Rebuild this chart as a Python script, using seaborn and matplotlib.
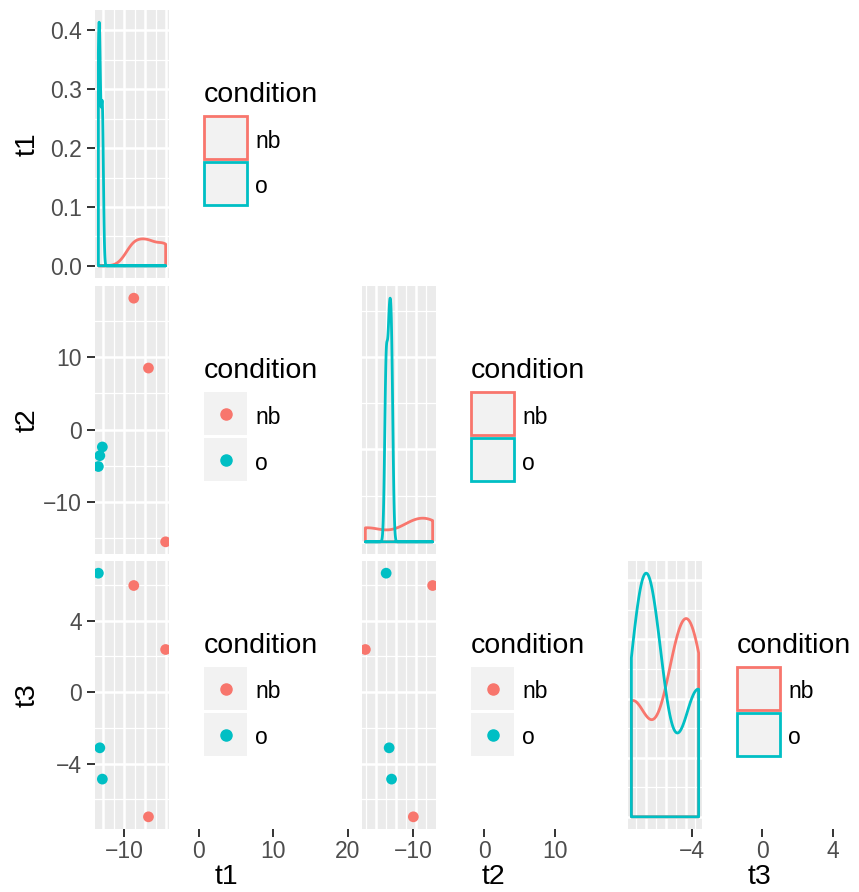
import numpy as np
import pandas as pd
import matplotlib
matplotlib.use("Agg")
import matplotlib.pyplot as plt
from matplotlib.patches import Rectangle
from matplotlib.lines import Line2D
from matplotlib.ticker import MultipleLocator
import seaborn as sns

# data (three samples per condition)
conditions = ["nb", "nb", "nb", "o", "o", "o"]
t1 = [4.6, 11.6, 19.8, -12.3, -11.6, -10.4]
t2 = [18.15, 8.5, -15.5, -5.1, -3.6, -2.4]
t3 = [5.96, -6.98, 2.38, 6.65, -3.12, -4.87]

variables = ["t1", "t2", "t3"]
levels = ["nb", "o"]
palette = {"nb": "#F8766D", "o": "#00BFC4"}

df = pd.DataFrame({"condition": conditions, "t1": t1, "t2": t2, "t3": t3})

plt.rcParams["font.family"] = ["Liberation Sans", "DejaVu Sans"]

# layout in pixels (figure is 859 x 892)
W, H = 859, 892
PANEL_LEFT = [95, 362, 628]
PANEL_TOP = [10, 286, 561]
PANEL_W, PANEL_H = 74, 268
STRIP_W = 263
x_step = {"t1": 10, "t2": 10, "t3": 4}
dens_step = {"t1": 0.1, "t2": 0.1, "t3": 0.02}

TICK_COL = "#333333"
LAB_COL = "#4D4D4D"


def px_rect(l, t, w, h):
    return [l / W, 1 - (t + h) / H, w / W, h / H]


def fy(y):
    return 1 - y / H


def nrd0(x):
    """R's default bandwidth (bw.nrd0)."""
    x = np.asarray(x, dtype=float)
    sd = x.std(ddof=1)
    q75, q25 = np.percentile(x, [75, 25])
    lo = min(sd, (q75 - q25) / 1.34)
    return 0.9 * lo * len(x) ** -0.2


def style_panel(ax, xs, ys):
    ax.set_facecolor("#EBEBEB")
    ax.xaxis.set_major_locator(MultipleLocator(xs))
    ax.xaxis.set_minor_locator(MultipleLocator(xs / 2))
    ax.yaxis.set_major_locator(MultipleLocator(ys))
    ax.yaxis.set_minor_locator(MultipleLocator(ys / 2))
    ax.grid(which="major", color="white", linewidth=1.8)
    ax.grid(which="minor", color="white", linewidth=0.9)
    ax.set_axisbelow(True)
    for s in ax.spines.values():
        s.set_visible(False)
    ax.tick_params(which="both", bottom=False, left=False,
                   labelbottom=False, labelleft=False)
    ax.set_xlabel("")
    ax.set_ylabel("")


def density_panel(ax, var):
    lo, hi = df[var].min(), df[var].max()
    for lev in levels:
        x = df.loc[df.condition == lev, var]
        sns.kdeplot(x=x, ax=ax, bw_method=nrd0(x) / x.std(ddof=1),
                    cut=1000, clip=(lo, hi), gridsize=512, fill=True,
                    facecolor="none", color=palette[lev], linewidth=2.0)
    ax.use_sticky_edges = False
    ax.margins(0.05)
    ax.autoscale_view()


def draw_legend(fig, left, cy, kind):
    fig.text(left / W, fy(cy - 42), "condition", fontsize=20.5,
             ha="left", va="baseline")
    for k, lev in enumerate(levels):
        top = cy - 28 + k * 46
        if kind == "density":
            rect = Rectangle((left / W, fy(top + 43)), 43 / W, 43 / H,
                             transform=fig.transFigure, facecolor="#F2F2F2",
                             edgecolor=palette[lev], linewidth=2.0)
        else:
            rect = Rectangle((left / W, fy(top + 43)), 43 / W, 43 / H,
                             transform=fig.transFigure, facecolor="#F2F2F2",
                             edgecolor="none")
        fig.add_artist(rect)
        if kind == "point":
            fig.add_artist(Line2D([(left + 21.5) / W], [fy(top + 21.5)],
                                  marker="o", markersize=8, linestyle="none",
                                  color=palette[lev], transform=fig.transFigure))
        fig.text((left + 51) / W, fy(top + 31.5), lev, fontsize=16.5,
                 ha="left", va="baseline")


fig = plt.figure(figsize=(W / 100, H / 100), dpi=100)

panels = {}
for i, yvar in enumerate(variables):
    for j, xvar in enumerate(variables):
        if j > i:
            continue
        ax = fig.add_axes(px_rect(PANEL_LEFT[j], PANEL_TOP[i], PANEL_W, PANEL_H))
        if i == j:
            density_panel(ax, xvar)
            style_panel(ax, x_step[xvar], dens_step[xvar])
            kind = "density"
        else:
            sns.scatterplot(data=df, x=xvar, y=yvar, hue="condition",
                            hue_order=levels, palette=palette, s=60,
                            linewidth=0, legend=False, ax=ax)
            style_panel(ax, x_step[xvar], x_step[yvar])
            kind = "point"
        if j == 0:
            ax.tick_params(which="major", left=True, labelleft=True,
                           length=5.5, width=1.4, color=TICK_COL,
                           labelcolor=LAB_COL, labelsize=16.5, pad=4)
        panels[(i, j)] = ax
        draw_legend(fig, PANEL_LEFT[j] + PANEL_W + 35,
                    PANEL_TOP[i] + PANEL_H / 2, kind)

# the x axis keeps the panel's range but runs over the whole column,
# while the panel itself is squeezed by its legend
for j, var in enumerate(variables):
    pan = panels[(2, j)]
    lo, hi = pan.get_xlim()
    ticks = [t for t in pan.xaxis.get_majorticklocs() if lo <= t <= hi]
    strip = fig.add_axes(px_rect(PANEL_LEFT[j], PANEL_TOP[2] + PANEL_H - 1,
                                 STRIP_W, 1))
    strip.set_xlim(lo, hi)
    strip.set_xticks(ticks)
    strip.set_yticks([])
    strip.patch.set_visible(False)
    for s in strip.spines.values():
        s.set_visible(False)
    strip.tick_params(axis="x", length=5.5, width=1.4, color=TICK_COL,
                      labelcolor=LAB_COL, labelsize=16.5, pad=2.5)
    fig.text((PANEL_LEFT[j] + STRIP_W / 2) / W, fy(884), var,
             fontsize=20.5, ha="center", va="baseline")

for i, var in enumerate(variables):
    fig.text(28 / W, fy(PANEL_TOP[i] + PANEL_H / 2), var, fontsize=20.5,
             rotation=90, ha="center", va="center")

fig.savefig("out.png", dpi=100)
